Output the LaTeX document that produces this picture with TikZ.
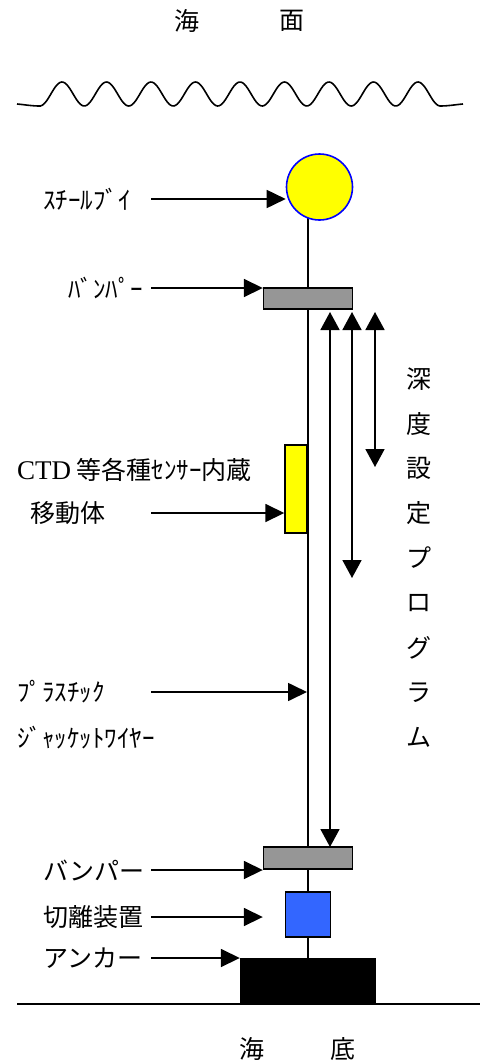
\documentclass[tikz,border=0pt]{standalone}
\usepackage{fontspec}
\newfontfamily\jp{Noto Sans CJK JP}
\newfontfamily\lat{Liberation Serif}
\usetikzlibrary{arrows.meta,backgrounds}
\begin{document}
\begin{tikzpicture}[x=1pt,y=-1pt,
  lbl/.style={anchor=west,inner sep=0pt,font=\jp\fontsize{25}{30}\selectfont},
  ctr/.style={anchor=center,inner sep=0pt,font=\jp\fontsize{25}{30}\selectfont},
  larrow/.style={line width=1.7pt,-{Triangle[length=19pt,width=18pt]}},
  darrow/.style={line width=1.7pt,{Triangle[length=18pt,width=19pt]}-{Triangle[length=18pt,width=19pt]}},
  wire/.style={line width=2.3pt},
  thinwire/.style={line width=2pt},
  part/.style={draw=black,line width=1.4pt,inner sep=0pt,rectangle}
]
\useasboundingbox (0,0) rectangle (486,1063);
\definecolor{buoyyellow}{RGB}{255,255,0}
\definecolor{bumpergray}{RGB}{150,150,150}
\definecolor{cutblue}{RGB}{51,102,255}

% titles
\node[ctr] (t1) at (187,21) {海};
\node[ctr] (t2) at (292,21) {面};
\node[ctr] (b1) at (252,1049) {海};
\node[ctr] (b2) at (343,1049) {底};

% sea surface wave
\draw[line width=1.6pt] (17,104) to[out=-5,in=180] (40,106)
  -- plot[domain=40:440,samples=240,smooth] (\x,{94-12*cos(((\x-62)/44.5)*360)})
  to[out=0,in=185] (463,104);

% sea bed
\draw[line width=1.6pt] (17,1004) -- (480,1004);

% parts
\node[circle,draw=blue,line width=1.6pt,fill=buoyyellow,minimum size=66pt,inner sep=0pt] (buoy) at (319.5,187) {};
\node[part,fill=bumpergray,minimum width=89pt,minimum height=21pt] (bump1) at (308,298.5) {};
\node[part,fill=bumpergray,minimum width=89pt,minimum height=22pt] (bump2) at (308,858) {};
\node[part,fill=cutblue,minimum width=45pt,minimum height=45pt] (cut) at (308,914.5) {};
\node[part,fill=black,minimum width=135pt,minimum height=45pt] (anchor) at (308,981.5) {};
\node[part,fill=buoyyellow,minimum width=22pt,minimum height=88pt] (ctd) at (296,489) {};

% wires
\begin{scope}[on background layer]
\draw[thinwire] (bump1.north) -- (bump1.north |- buoy.center);
\draw[wire] (bump1.south) -- (bump2.north);
\draw[thinwire] (bump2.south) -- (cut.north);
\draw[thinwire] (cut.south) -- (anchor.north);
\end{scope}

% labels
\node[lbl] (lbuoy) at (43,199) {ｽﾁｰﾙﾌﾞｲ};
\node[lbl] (lbump1) at (68,288) {ﾊﾞﾝﾊﾟｰ};
\node[lbl] (lctd1) at (17,470) {{\lat\fontsize{27}{30}\selectfont CTD} 等各種ｾﾝｻｰ内蔵};
\node[lbl] (lctd2) at (30,513) {移動体};
\node[lbl] (lwire1) at (17,692) {ﾌﾟﾗｽﾁｯｸ};
\node[lbl] (lwire2) at (17,738) {ｼﾞｬｯｹｯﾄﾜｲﾔｰ};
\node[lbl] (lbump2) at (43,870) {バンパー};
\node[lbl] (lcut) at (43,917) {切離装置};
\node[lbl] (lanchor) at (43,958) {アンカー};

% label arrows
\coordinate (s1) at (151,199);
\coordinate (s2) at (151,288);
\coordinate (s3) at (151,513);
\coordinate (s4) at (151,692);
\coordinate (s5) at (151,870);
\coordinate (s6) at (151,917);
\coordinate (s7) at (151,958);
\coordinate (wirept) at (307,692);
\draw[larrow] (s1) -- (s1 -| buoy.west);
\draw[larrow] (s2) -- (s2 -| bump1.west);
\draw[larrow] (s3) -- (s3 -| ctd.west);
\draw[larrow] (s4) -- (wirept);
\draw[larrow] (s5) -- (s5 -| bump2.west);
\draw[larrow] (s6) -- (s6 -| bump2.west);
\draw[larrow] (s7) -- (s7 -| anchor.west);

% depth arrows
\coordinate (d1t) at (330,312);
\coordinate (d1b) at (330,847);
\coordinate (d2t) at (352,312);
\coordinate (d2b) at (352,578);
\coordinate (d3t) at (375,312);
\coordinate (d3b) at (375,467);
\draw[darrow] (d1t) -- (d1b);
\draw[darrow] (d2t) -- (d2b);
\draw[darrow] (d3t) -- (d3b);

% vertical text
\foreach \ch [count=\i from 0] in {深,度,設,定,プ,ロ,グ,ラ,ム} {
  \node[ctr] (v\i) at (419,{379+44.75*\i}) {\ch};
}
\end{tikzpicture}
\end{document}
